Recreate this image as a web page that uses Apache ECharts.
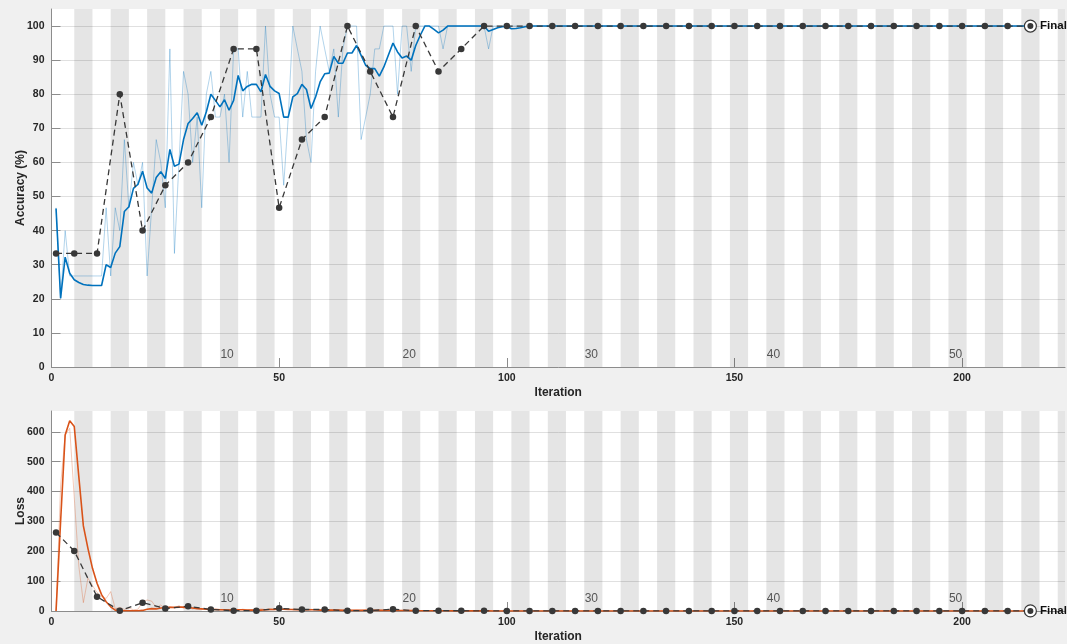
<!DOCTYPE html>
<html>
<head>
<meta charset="utf-8">
<script src="https://cdn.jsdelivr.net/npm/echarts@6/dist/echarts.min.js"></script>
<style>
  html, body { margin: 0; padding: 0; background: #f0f0f0; }
  #chart { width: 1067px; height: 644px; }
</style>
</head>
<body>
<div id="chart"></div>
<script>
// Training progress: per-iteration mini-batch accuracy / loss, smoothed curves and validation checks.

const itersPerEpoch = 4;
const finalIter = 215;
const xMax = 222.6;
const xTicks = [0, 50, 100, 150, 200];
const accTicks = [0, 10, 20, 30, 40, 50, 60, 70, 80, 90, 100];
const lossTicks = [0, 100, 200, 300, 400, 500, 600];
const epochLabels = [10, 20, 30, 40, 50];

// Mini-batch accuracy (%), iterations 1..215
const rawAcc = [
  46.7, 20, 40, 26.7, 26.7, 26.7, 26.7, 26.7, 26.7, 26.7,
  26.7, 46.7, 26.7, 46.7, 40, 66.7, 46.7, 60, 53.3, 60,
  26.7, 46.7, 66.7, 60, 46.7, 93.3, 33.3, 60, 86.7, 80,
  60, 73.3, 46.7, 80, 86.7, 73.3, 73.3, 80, 60, 93.3,
  93.3, 73.3, 86.7, 73.3, 73.3, 73.3, 100, 80, 73.3, 73.3,
  53.3, 73.3, 100, 93.3, 86.7, 66.7, 60, 86.7, 100, 93.3,
  86.7, 93.3, 73.3, 93.3, 100, 100, 100, 66.7, 73.3, 80,
  93.3, 93.3, 100, 100, 100, 80, 100, 100, 86.7, 100,
  100, 100, 100, 100, 100, 93.3, 100, 100, 100, 100,
  100, 100, 100, 100, 100, 93.3, 100, 100, 100, 100,
  100, 100, 100, 100, 100, 100, 100, 100, 100, 100,
  100, 100, 100, 100, 100, 100, 100, 100, 100, 100,
  100, 100, 100, 100, 100, 100, 100, 100, 100, 100,
  100, 100, 100, 100, 100, 100, 100, 100, 100, 100,
  100, 100, 100, 100, 100, 100, 100, 100, 100, 100,
  100, 100, 100, 100, 100, 100, 100, 100, 100, 100,
  100, 100, 100, 100, 100, 100, 100, 100, 100, 100,
  100, 100, 100, 100, 100, 100, 100, 100, 100, 100,
  100, 100, 100, 100, 100, 100, 100, 100, 100, 100,
  100, 100, 100, 100, 100, 100, 100, 100, 100, 100,
  100, 100, 100, 100, 100, 100, 100, 100, 100, 100,
  100, 100, 100, 100, 100
];

// Smoothed accuracy (%), iterations 1..215
const smoothAcc = [
  46.5, 20.2, 32.2, 27.5, 25.6, 24.8, 24.2, 24, 23.9, 23.9,
  23.9, 30, 29.2, 33.4, 35.3, 45.6, 47, 52.4, 53.6, 57.4,
  52.5, 51, 55.6, 57.3, 55.3, 63.8, 58.9, 59.5, 66.7, 71.4,
  72.9, 74.6, 70.9, 74.8, 80, 78.2, 76.3, 78.4, 75.3, 78.2,
  85.5, 81, 82.3, 82.9, 82.9, 80.7, 85.8, 82.3, 81, 80.2,
  73.3, 73.3, 79.2, 80.2, 82.9, 81.4, 75.8, 79.2, 83.6, 86,
  86.2, 91.1, 89.1, 89.1, 92.1, 92.1, 94.3, 91.4, 88.5, 87.5,
  87.5, 85.3, 88, 91.5, 95, 92.4, 90.6, 91.2, 90, 94.3,
  97.3, 100, 100, 99, 98, 98.8, 100, 100, 100, 100,
  100, 100, 100, 100, 100, 98.5, 99, 99.5, 99.8, 100,
  99.2, 99.3, 99.5, 99.8, 100, 100, 100, 100, 100, 100,
  100, 100, 100, 100, 100, 100, 100, 100, 100, 100,
  100, 100, 100, 100, 100, 100, 100, 100, 100, 100,
  100, 100, 100, 100, 100, 100, 100, 100, 100, 100,
  100, 100, 100, 100, 100, 100, 100, 100, 100, 100,
  100, 100, 100, 100, 100, 100, 100, 100, 100, 100,
  100, 100, 100, 100, 100, 100, 100, 100, 100, 100,
  100, 100, 100, 100, 100, 100, 100, 100, 100, 100,
  100, 100, 100, 100, 100, 100, 100, 100, 100, 100,
  100, 100, 100, 100, 100, 100, 100, 100, 100, 100,
  100, 100, 100, 100, 100, 100, 100, 100, 100, 100,
  100, 100, 100, 100, 100
];

// Mini-batch loss, iterations 1..215
const rawLoss = [
  0, 420, 590, 612, 380, 150, 28, 110, 85, 62,
  48, 42, 65, 8, 12, 5, 10, 4, 6, 30,
  37, 33, 12, 20, 8, 15, 10, 18, 9, 12,
  7, 10, 6, 9, 4, 6, 5, 3, 5, 4,
  3, 6, 4, 5, 3, 7, 5, 8, 6, 12,
  5, 7, 4, 6, 5, 4, 6, 3, 5, 4,
  3, 4, 2, 3, 5, 2, 3, 2, 4, 2,
  2, 3, 1.5, 2, 3, 1, 2, 1.5, 1, 2,
  1, 1, 0.8, 1.2, 0.6, 1, 0.5, 0.8, 0.4, 0.6,
  0.4, 0.5, 0.3, 0.4, 0.3, 0.5, 0.2, 0.3, 0.2, 0.2,
  0.1, 0.1, 0.1, 0.1, 0.1, 0.1, 0.1, 0.1, 0.1, 0.1,
  0.1, 0.1, 0.1, 0.1, 0.1, 0.1, 0.1, 0.1, 0.1, 0.1,
  0.1, 0.1, 0.1, 0.1, 0.1, 0.1, 0.1, 0.1, 0.1, 0.1,
  0.1, 0.1, 0.1, 0.1, 0.1, 0.1, 0.1, 0.1, 0.1, 0.1,
  0.1, 0.1, 0.1, 0.1, 0.1, 0.1, 0.1, 0.1, 0.1, 0.1,
  0.1, 0.1, 0.1, 0.1, 0.1, 0.1, 0.1, 0.1, 0.1, 0.1,
  0.1, 0.1, 0.1, 0.1, 0.1, 0.1, 0.1, 0.1, 0.1, 0.1,
  0.1, 0.1, 0.1, 0.1, 0.1, 0.1, 0.1, 0.1, 0.1, 0.1,
  0.1, 0.1, 0.1, 0.1, 0.1, 0.1, 0.1, 0.1, 0.1, 0.1,
  0.1, 0.1, 0.1, 0.1, 0.1, 0.1, 0.1, 0.1, 0.1, 0.1,
  0.1, 0.1, 0.1, 0.1, 0.1, 0.1, 0.1, 0.1, 0.1, 0.1,
  0.1, 0.1, 0.1, 0.1, 0.1
];

// Smoothed loss, iterations 1..215
const smoothLoss = [
  0, 300, 590, 637, 618, 450, 285, 210, 143, 93,
  55, 31, 14, 3, 1, 1, 1, 1, 1, 2,
  6, 8, 7, 10, 11, 12, 12, 13, 13, 12,
  10, 8, 7, 6, 5, 5, 4, 4, 3, 3,
  4, 4, 3, 3, 3, 3, 4, 5, 5, 6,
  6, 5, 5, 4, 4, 4, 4, 4, 3, 3,
  3, 3, 3, 2, 2, 2, 2, 2, 2, 2,
  2, 2, 2, 2, 1.5, 1.5, 1.5, 1.5, 1.2, 1.2,
  1, 1, 0.9, 0.8, 0.7, 0.7, 0.6, 0.5, 0.5, 0.4,
  0.4, 0.4, 0.3, 0.3, 0.3, 0.3, 0.2, 0.2, 0.2, 0.2,
  0.1, 0.1, 0.1, 0.1, 0.1, 0.1, 0.1, 0.1, 0.1, 0.1,
  0.1, 0.1, 0.1, 0.1, 0.1, 0.1, 0.1, 0.1, 0.1, 0.1,
  0.1, 0.1, 0.1, 0.1, 0.1, 0.1, 0.1, 0.1, 0.1, 0.1,
  0.1, 0.1, 0.1, 0.1, 0.1, 0.1, 0.1, 0.1, 0.1, 0.1,
  0.1, 0.1, 0.1, 0.1, 0.1, 0.1, 0.1, 0.1, 0.1, 0.1,
  0.1, 0.1, 0.1, 0.1, 0.1, 0.1, 0.1, 0.1, 0.1, 0.1,
  0.1, 0.1, 0.1, 0.1, 0.1, 0.1, 0.1, 0.1, 0.1, 0.1,
  0.1, 0.1, 0.1, 0.1, 0.1, 0.1, 0.1, 0.1, 0.1, 0.1,
  0.1, 0.1, 0.1, 0.1, 0.1, 0.1, 0.1, 0.1, 0.1, 0.1,
  0.1, 0.1, 0.1, 0.1, 0.1, 0.1, 0.1, 0.1, 0.1, 0.1,
  0.1, 0.1, 0.1, 0.1, 0.1, 0.1, 0.1, 0.1, 0.1, 0.1,
  0.1, 0.1, 0.1, 0.1, 0.1
];

// Validation checks
const valIters = [
  1, 5, 10, 15, 20, 25, 30, 35, 40, 45, 50, 55, 60, 65, 70, 75, 80, 85, 90, 95,
  100, 105, 110, 115, 120, 125, 130, 135, 140, 145, 150, 155, 160, 165, 170,
  175, 180, 185, 190, 195, 200, 205, 210, 215
];
const valAcc = [
  33.3, 33.3, 33.3, 80, 40, 53.3, 60, 73.3, 93.3, 93.3, 46.7, 66.7, 73.3, 100, 86.7, 73.3, 100, 86.7, 93.3, 100,
  100, 100, 100, 100, 100, 100, 100, 100, 100, 100, 100, 100, 100, 100, 100,
  100, 100, 100, 100, 100, 100, 100, 100, 100
];
const valLoss = [
  263, 201, 48, 1, 28, 8, 16, 5, 1, 1, 9, 5, 5, 1, 1.5, 6, 1, 1, 0.8, 0.5,
  0.3, 0.2, 0.2, 0.2, 0.2, 0.2, 0.2, 0.2, 0.2, 0.2, 0.2, 0.2, 0.2, 0.2, 0.2,
  0.2, 0.2, 0.2, 0.2, 0.2, 0.2, 0.2, 0.2, 0.2
];

const FONT = '"Liberation Sans", Arial, Helvetica, sans-serif';
const ACC_BLUE = '#0072BD';
const LOSS_ORANGE = '#D95319';
const VAL_GRAY = '#383838';

const seq = vals => vals.map((v, i) => [i + 1, v]);
const valPairs = vals => valIters.map((it, i) => [it, vals[i]]);

// shaded bands for every other epoch
const epochBands = [];
const lastEpoch = Math.ceil((xMax - 1) / itersPerEpoch);
for (let e = 2; e <= lastEpoch; e += 2) {
  const s = (e - 1) * itersPerEpoch + 1;
  const t = Math.min(e * itersPerEpoch + 1, xMax);
  epochBands.push([{ xAxis: s }, { xAxis: t }]);
}
const epochLabelData = epochLabels.map(e => ({ value: [(e - 1) * itersPerEpoch + 1 + itersPerEpoch / 2, 0], ep: e }));

function xAxisFor(gi) {
  return {
    gridIndex: gi, type: 'value', min: 0, max: xMax, interval: 50,
    name: 'Iteration', nameLocation: 'middle', nameGap: 20, nameMoveOverlap: false,
    nameTextStyle: { fontFamily: FONT, fontWeight: 'bold', fontSize: 12, color: '#262626' },
    axisLine: { show: true, onZero: false, lineStyle: { color: '#8c8c8c', width: 1 } },
    axisTick: { show: true, inside: true, length: 9, customValues: xTicks, lineStyle: { color: '#8c8c8c' } },
    axisLabel: { customValues: xTicks, margin: 6, fontFamily: FONT, fontWeight: 'bold', fontSize: 10.5, color: '#262626' },
    splitLine: { show: false }
  };
}
function yAxisFor(gi, name, max, interval, ticks) {
  return {
    gridIndex: gi, type: 'value', min: 0, max: max, interval: interval,
    name: name, nameLocation: 'middle', nameGap: 25, nameMoveOverlap: false,
    nameTextStyle: { fontFamily: FONT, fontWeight: 'bold', fontSize: 12, color: '#262626' },
    axisLine: { show: true, lineStyle: { color: '#8c8c8c', width: 1 } },
    axisTick: { show: true, inside: true, length: 9, customValues: ticks, lineStyle: { color: '#8c8c8c' } },
    axisLabel: { customValues: ticks, margin: 7, fontFamily: FONT, fontWeight: 'bold', fontSize: 10.5, color: '#262626' },
    splitLine: { show: true, lineStyle: { color: '#e0e0e0', width: 1 } }
  };
}

function panelSeries(gi, raw, smooth, val, mainColor, rawColor) {
  return [
    {
      type: 'line', xAxisIndex: gi, yAxisIndex: gi, data: [], z: 1, silent: true,
      markArea: { silent: true, itemStyle: { color: 'rgba(0,0,0,0.1)' }, data: epochBands }
    },
    {
      type: 'line', xAxisIndex: gi, yAxisIndex: gi, data: seq(raw), z: 2,
      symbol: 'none', lineStyle: { color: rawColor, width: 1 }
    },
    {
      type: 'line', xAxisIndex: gi, yAxisIndex: gi, data: seq(smooth), z: 3,
      symbol: 'none', lineStyle: { color: mainColor, width: 1.6 }
    },
    {
      type: 'line', xAxisIndex: gi, yAxisIndex: gi, data: valPairs(val), z: 4,
      symbol: 'circle', symbolSize: 6.5,
      itemStyle: { color: VAL_GRAY },
      lineStyle: { color: VAL_GRAY, width: 1.3, type: [6, 4] }
    },
    {
      type: 'scatter', xAxisIndex: gi, yAxisIndex: gi, z: 5, clip: false,
      data: [[finalIter, val[val.length - 1]]],
      symbol: 'circle', symbolSize: 12,
      itemStyle: { color: '#ffffff', borderColor: VAL_GRAY, borderWidth: 1.2, opacity: 1 },
      label: {
        show: true, position: 'right', distance: 3, formatter: 'Final',
        fontFamily: FONT, fontWeight: 'bold', fontSize: 11.5, color: '#111'
      }
    },
    {
      type: 'scatter', xAxisIndex: gi, yAxisIndex: gi, z: 6, clip: false,
      data: [[finalIter, val[val.length - 1]]],
      symbol: 'circle', symbolSize: 6, itemStyle: { color: VAL_GRAY, opacity: 1 }
    },
    {
      type: 'scatter', xAxisIndex: gi, yAxisIndex: gi, z: 6, clip: false, silent: true,
      data: epochLabelData, symbolSize: 0, itemStyle: { opacity: 1 },
      label: {
        show: true, position: 'top', distance: 6, offset: [-2, 0],
        formatter: p => String(p.data.ep),
        fontFamily: FONT, fontSize: 12, color: '#555555'
      }
    }
  ];
}

const chart = echarts.init(document.getElementById('chart'), null, { renderer: 'canvas' });
chart.setOption({
  animation: false,
  backgroundColor: '#f0f0f0',
  grid: [
    { left: 51.5, right: 2, top: 9, height: 358, show: true, backgroundColor: '#ffffff', borderWidth: 0, outerBoundsMode: 'none', containLabel: false },
    { left: 51.5, right: 2, top: 411, height: 200, show: true, backgroundColor: '#ffffff', borderWidth: 0, outerBoundsMode: 'none', containLabel: false }
  ],
  xAxis: [xAxisFor(0), xAxisFor(1)],
  yAxis: [
    yAxisFor(0, 'Accuracy (%)', 105, 10, accTicks),
    yAxisFor(1, 'Loss', 670, 100, lossTicks)
  ],
  series: [].concat(
    panelSeries(0, rawAcc, smoothAcc, valAcc, ACC_BLUE, 'rgba(0,114,189,0.3)'),
    panelSeries(1, rawLoss, smoothLoss, valLoss, LOSS_ORANGE, 'rgba(217,83,25,0.3)')
  )
});
</script>
</body>
</html>
